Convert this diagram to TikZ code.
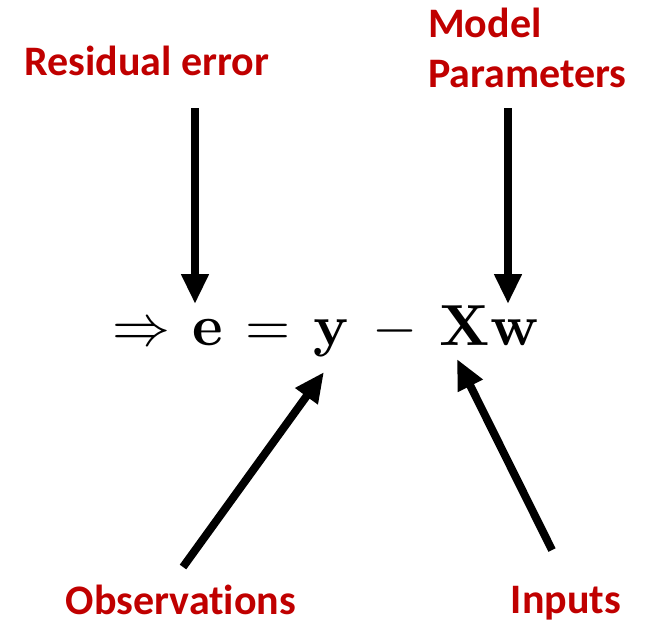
\documentclass[tikz,border=0pt]{standalone}
\usepackage{amsmath}
\usepackage{graphicx}
\usepackage[no-math]{fontspec}
\setmainfont{Carlito}[Ligatures={NoCommon}]
\usetikzlibrary{arrows.meta}
\definecolor{lblred}{RGB}{192,0,0}
\tikzset{
  lbl/.style={text=lblred,font=\fontsize{42}{50}\selectfont\bfseries,inner sep=0pt},
  ptr/.style={line width=8pt,-{Triangle[length=30pt,width=26pt]}}
}
\begin{document}
\begin{tikzpicture}[x=1pt,y=-1pt]
\useasboundingbox (0,0) rectangle (656,624);
\node[lbl,anchor=base] (res) at (147,75) {Residual error};
\node[lbl,anchor=base west] (mod) at (428,37) {Model};
\node[lbl,anchor=base west] (par) at (428,87) {Parameters};
\node[lbl,anchor=base] (obs) at (181,614) {Observat\kern0pt ions};
\node[lbl,anchor=base] (inp) at (566,613) {Inputs};
\node[anchor=base west,inner sep=0pt] (eq) at (112,345) {\scalebox{5.8}{\thickmuskip=7mu\medmuskip=7mu$\Rightarrow \mathbf{e} = \mathbf{y} - \mathbf{X}\mathbf{w}$}};
\coordinate (a1s) at (195,108); \coordinate (a1e) at (195,304);
\coordinate (a2s) at (508,108); \coordinate (a2e) at (508,304);
\coordinate (a3s) at (183,567); \coordinate (a3e) at (324,372);
\coordinate (a4s) at (552,550); \coordinate (a4e) at (457,359);
\draw[ptr] (a1s) -- (a1e);
\draw[ptr] (a2s) -- (a2e);
\draw[ptr] (a3s) -- (a3e);
\draw[ptr] (a4s) -- (a4e);
\end{tikzpicture}
\end{document}
